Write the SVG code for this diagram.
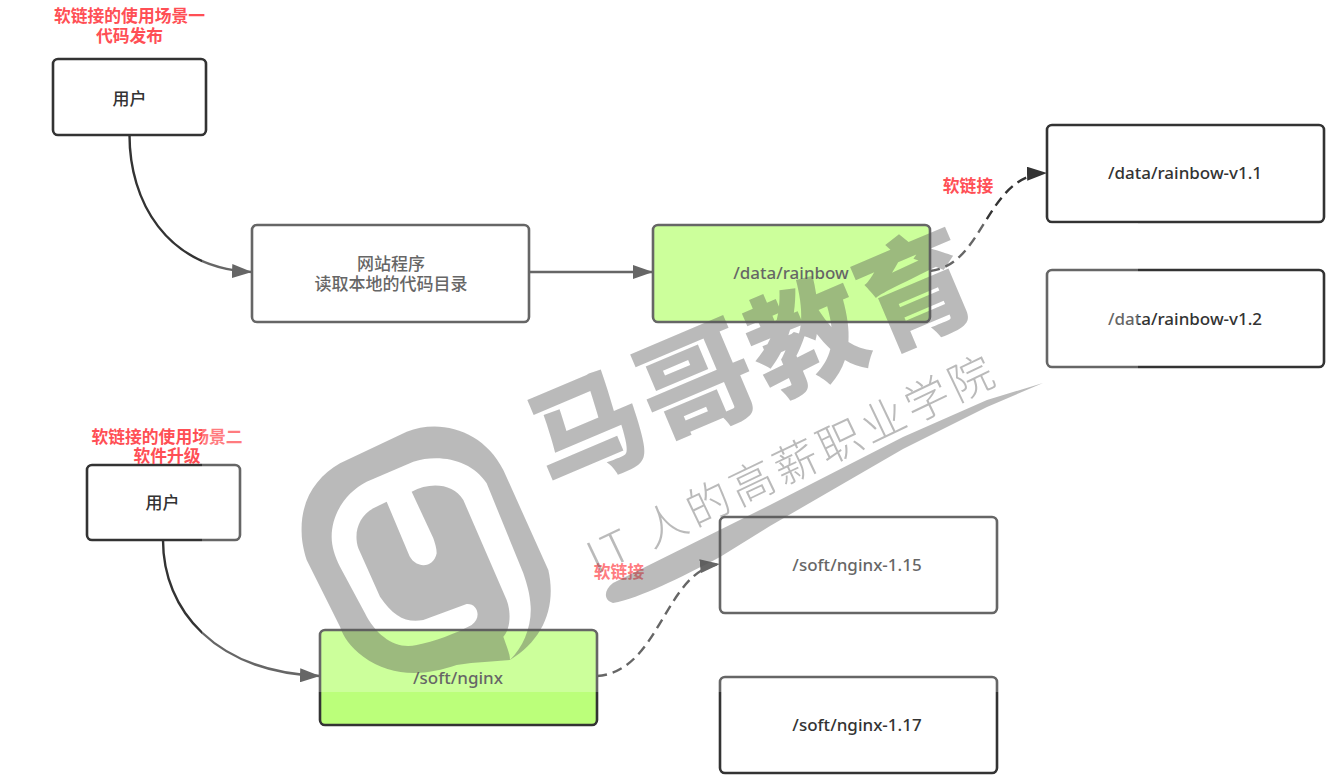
<svg xmlns="http://www.w3.org/2000/svg" width="1341" height="782" viewBox="0 0 1341 782">
<style>
.box{fill:#fff;stroke:#333;stroke-width:2.6}
.green{fill:#bbff7a}
.t{font-family:"Noto Sans","Noto Sans CJK SC",sans-serif;font-size:17px;font-weight:500;fill:#333;text-anchor:middle}
.r{font-family:"Noto Sans CJK SC",sans-serif;font-size:16.8px;font-weight:700;fill:#ff4f55;text-anchor:middle}
.c{fill:none;stroke:#333;stroke-width:2.4}
.d{stroke-dasharray:10 6}
.wm{fill:#555;opacity:.4}
.wt{font-family:"Noto Sans CJK SC",sans-serif;text-anchor:middle;fill:#555;opacity:.4}
</style>
<defs>
<marker id="a" markerUnits="userSpaceOnUse" markerWidth="20" markerHeight="14" refX="20" refY="7" orient="auto"><path d="M0 0L20 7L0 14Z" fill="#333"/></marker>
<mask id="lm" maskUnits="userSpaceOnUse" x="290" y="420" width="280" height="280">
<g transform="translate(290 420) scale(.33333)">
<path fill="#fff" d="M35 340C30 240 80 170 150 130L350 35C450 -5 580 30 640 150L775 450C800 560 760 660 660 720C610 725 560 725 500 735C400 770 300 770 220 710C180 680 160 650 150 620L50 420C40 390 35 360 35 340Z"/>
<path fill="#000" d="M660 720C700 680 725 620 722 560C720 520 710 490 700 460L590 190C545 120 450 100 370 125L230 185C170 215 125 280 125 350C125 380 135 410 150 440L225 580C260 650 320 690 380 675C430 665 500 640 545 615C575 595 565 550 530 552L400 600C350 610 310 590 270 530L205 385C190 340 205 290 250 265L290 245L355 400C370 445 430 450 440 400C440 385 435 370 430 355L365 215C420 185 490 190 520 240L650 540C665 580 660 630 640 650C650 680 660 700 660 720Z"/>
</g>
</mask>
</defs>
<rect width="1341" height="782" fill="#fff"/>
<g id="connectors">
<path class="c" marker-end="url(#a)" d="M129.500 135C129.500 200 165 268 252 272"/>
<path class="c" marker-end="url(#a)" d="M529 272L653 272"/>
<path class="c d" marker-end="url(#a)" d="M930 271C985 265 985 175 1047 173"/>
<path class="c" marker-end="url(#a)" d="M163 540C163 610 215 672 320 676"/>
<path class="c d" marker-end="url(#a)" d="M597 676C660 672 665 570 720 564"/>
</g>
<g id="user1"><rect class="box" x="53" y="59" width="153" height="76" rx="5"/><text class="t" x="129.500" y="105">用户</text></g>
<g id="site"><rect class="box" x="252" y="225" width="277" height="97" rx="5"/><text class="t" x="391" y="270">网站程序</text><text class="t" x="391" y="290">读取本地的代码目录</text></g>
<g id="rainbow"><rect class="box green" x="653" y="225" width="277" height="97" rx="5"/><text class="t" x="791" y="279">/data/rainbow</text></g>
<g id="rainbow-v11"><rect class="box" x="1047" y="125" width="277" height="97" rx="5"/><text class="t" x="1185" y="179">/data/rainbow-v1.1</text></g>
<g id="rainbow-v12"><rect class="box" x="1047" y="270" width="277" height="97" rx="5"/><text class="t" x="1185" y="325">/data/rainbow-v1.2</text></g>
<g id="user2"><rect class="box" x="87" y="465" width="153" height="75" rx="5"/><text class="t" x="162.500" y="509">用户</text></g>
<g id="nginx"><rect class="box green" x="320" y="630" width="277" height="95" rx="5"/><text class="t" x="458" y="684">/soft/nginx</text></g>
<g id="nginx-115"><rect class="box" x="720" y="517" width="277" height="96" rx="5"/><text class="t" x="857" y="571">/soft/nginx-1.15</text></g>
<g id="nginx-117"><rect class="box" x="720" y="677" width="277" height="96" rx="5"/><text class="t" x="857" y="731">/soft/nginx-1.17</text></g>
<g id="labels">
<text class="r" x="129.500" y="22">软链接的使用场景一</text>
<text class="r" x="129.500" y="42">代码发布</text>
<text class="r" x="167" y="443">软链接的使用场景二</text>
<text class="r" x="167" y="462">软件升级</text>
<text class="r" x="968" y="192">软链接</text>
<text class="r" x="619" y="578">软链接</text>
</g>
<rect id="veil" x="202" y="223" width="936" height="469" fill="#fff" opacity=".25"/>
<g id="watermark">
<rect x="290" y="420" width="280" height="280" fill="#555" opacity=".4" mask="url(#lm)"/>
<text class="wt" font-size="115" font-weight="900" letter-spacing="4" transform="translate(770 398) rotate(-23)" x="0" y="0">马哥教育</text>
<text class="wt" font-size="44" font-weight="300" letter-spacing="4.500" transform="translate(799 478) rotate(-25.500)" x="0" y="0">IT 人的高薪职业学院</text>
<path class="wm" d="M1043 383L987 400L903 437L770 505L613 583C604 590 603 600 613 603C640 598 680 578 720 557L770 526L903 449L987 407Z"/>
</g>
</svg>
